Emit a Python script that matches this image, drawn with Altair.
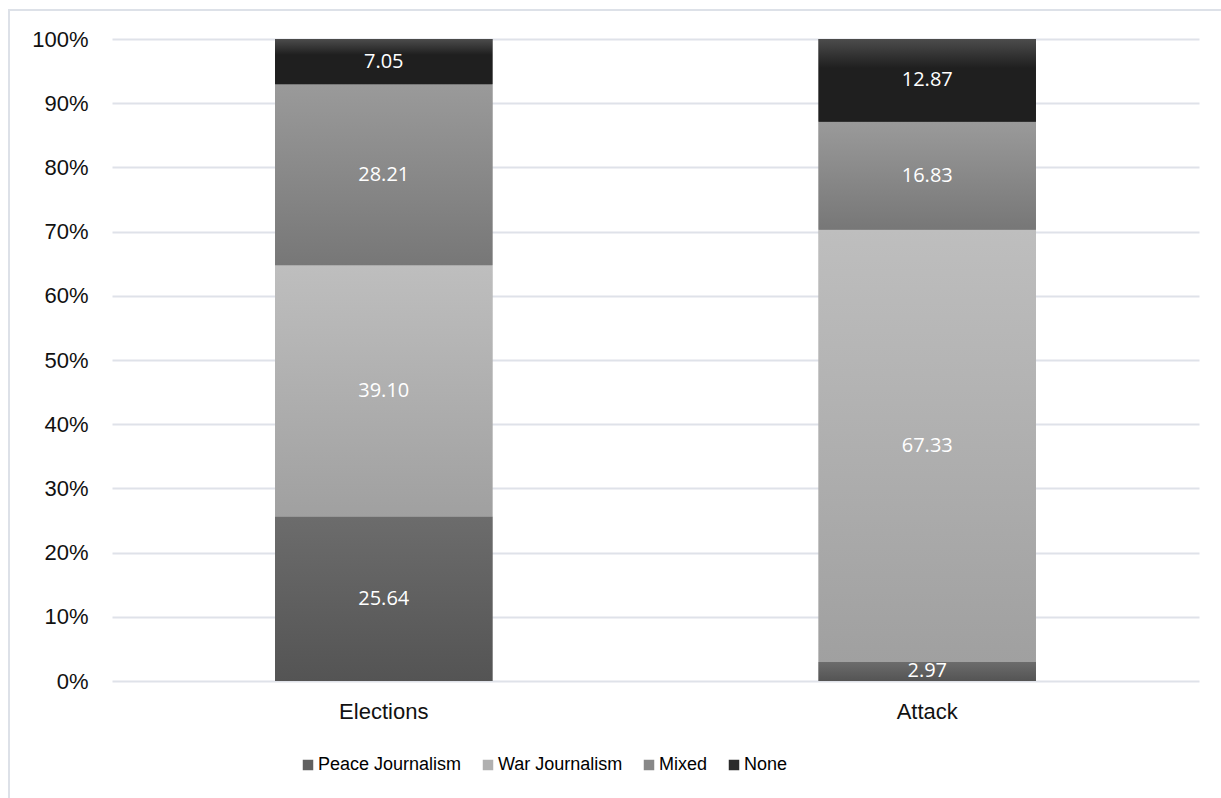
import altair as alt
import pandas as pd

# Share of coverage by framing type, per event (percent of stories)
categories = ["Elections", "Attack"]
series = ["Peace Journalism", "War Journalism", "Mixed", "None"]
elections_values = [25.64, 39.10, 28.21, 7.05]
attack_values = [2.97, 67.33, 16.83, 12.87]
y_ticks = [0, 0.1, 0.2, 0.3, 0.4, 0.5, 0.6, 0.7, 0.8, 0.9, 1.0]

# Solid tones for the legend swatches, gradients for the bar segments
solid_colors = ["#606060", "#b0b0b0", "#888888", "#2b2b2b"]
gradient_stops = {
    "Peace Journalism": ["#6c6c6c", "#545454"],
    "War Journalism": ["#bebebe", "#a0a0a0"],
    "Mixed": ["#9a9a9a", "#777777"],
    "None": ["#4c4c4c", "#1f1f1f"],
}

rows = []
for cat, vals in zip(categories, [elections_values, attack_values]):
    for i, (s, v) in enumerate(zip(series, vals)):
        rows.append({"category": cat, "series": s, "value": v, "order": i,
                     "label": f"{v:.2f}"})
df = pd.DataFrame(rows)


def vgrad(top, bottom, mid=None):
    stops = [{"offset": 0, "color": top}]
    if mid is not None:
        stops.append({"offset": mid, "color": bottom})
    stops.append({"offset": 1, "color": bottom})
    return {"gradient": "linear", "x1": 0, "y1": 0, "x2": 0, "y2": 1, "stops": stops}


grads = {
    "Peace Journalism": vgrad(*gradient_stops["Peace Journalism"]),
    "War Journalism": vgrad(*gradient_stops["War Journalism"]),
    "Mixed": vgrad(*gradient_stops["Mixed"]),
    "None": vgrad(*gradient_stops["None"], mid=0.35),
}

AXIS_FONT = "Liberation Sans"
GRID = "#dfe2e9"

x_enc = alt.X(
    "category:N",
    sort=categories,
    scale=alt.Scale(paddingInner=0.6, paddingOuter=0.3),
    axis=alt.Axis(title=None, labelAngle=0, ticks=False, domain=False,
                  labelFont=AXIS_FONT, labelFontSize=22, labelColor="#111111",
                  labelPadding=20),
)
y_scale = alt.Scale(domain=[0, 1], nice=False)

base = alt.Chart(df).transform_stack(
    stack="value",
    groupby=["category"],
    sort=[alt.SortField("order", order="ascending")],
    as_=["y0", "y1"],
    offset="normalize",
).transform_calculate(mid="(datum.y0 + datum.y1) / 2")

solid = base.mark_bar().encode(
    x=x_enc,
    y=alt.Y("y0:Q", scale=y_scale,
            axis=alt.Axis(title=None, values=y_ticks, format=".0%", ticks=False,
                          domain=False, grid=True, gridColor=GRID, gridWidth=2,
                          labelFont=AXIS_FONT, labelFontSize=22,
                          labelColor="#111111", labelPadding=24)),
    y2="y1:Q",
    color=alt.Color(
        "series:N",
        scale=alt.Scale(domain=series, range=solid_colors),
        legend=alt.Legend(
            title=None, orient="none", direction="horizontal", columns=4,
            legendX=187, legendY=717, symbolType="square", symbolSize=110,
            symbolStrokeWidth=0, labelFont=AXIS_FONT,
            labelFontSize=18, labelColor="#000000", labelOffset=1,
            labelLimit=0, columnPadding=17, padding=0,
        ),
    ),
)

fill_def = {
    "condition": [
        {"test": f"datum.series === '{s}'", "value": grads[s]} for s in series[:-1]
    ],
    "value": grads[series[-1]],
}

shaded = base.mark_bar().encode(x=x_enc, y=alt.Y("y0:Q", scale=y_scale), y2="y1:Q",
                                fill=fill_def)

labels = base.mark_text(color="white", font="Open Sans", fontSize=20).encode(
    x=x_enc,
    y=alt.Y("mid:Q", scale=y_scale),
    text="label:N",
)

frame = alt.Chart(pd.DataFrame({"k": [0]})).mark_rect(
    fillOpacity=0, stroke="#dde1e8", strokeWidth=2
).encode(x=alt.value(-103), x2=alt.value(1400), y=alt.value(-29), y2=alt.value(1000))

chart = alt.layer(frame, solid, shaded, labels).properties(
    width=1087,
    height=642,
    padding={"left": 112, "top": 39, "right": 22, "bottom": 117},
    autosize=alt.AutoSizeParams(type="none"),
    background="white",
).configure_view(stroke=None)

chart.save("out.html", embed_options={"renderer": "svg", "actions": False})
